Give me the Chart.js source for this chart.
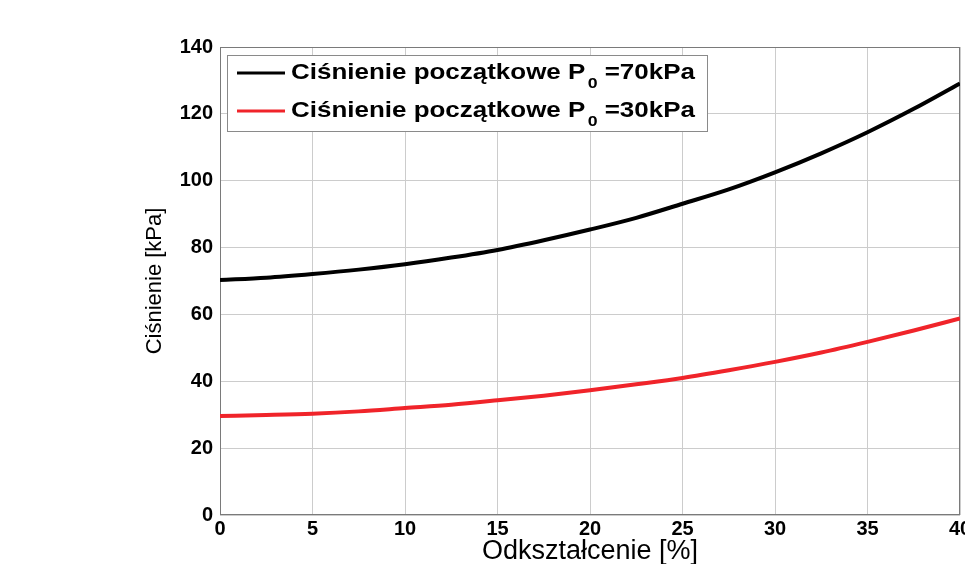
<!DOCTYPE html>
<html>
<head>
<meta charset="utf-8">
<script src="https://cdn.jsdelivr.net/npm/chart.js@4.4.1/dist/chart.umd.min.js"></script>
<style>
  html, body { margin: 0; padding: 0; background: #fff; }
  #wrap { width: 965px; height: 564px; }
</style>
</head>
<body>
<div id="wrap"><canvas id="chart" width="965" height="564"></canvas></div>
<script>
// Data
const strain = [0, 2.5, 5, 7.5, 10, 12.5, 15, 17.5, 20, 22.5, 25, 27.5, 30, 32.5, 35, 37.5, 40];
const p70 = [70.3, 71.0, 72.1, 73.4, 75.0, 77.0, 79.3, 82.2, 85.4, 88.9, 93.1, 97.4, 102.5, 108.2, 114.5, 121.5, 129.1];
const p30 = [29.6, 29.9, 30.3, 31.0, 32.0, 33.0, 34.3, 35.7, 37.3, 39.1, 41.0, 43.3, 45.8, 48.6, 51.8, 55.2, 58.8];
const seriesLabels = [
  ['Ciśnienie początkowe P', '0', ' =70kPa'],
  ['Ciśnienie początkowe P', '0', ' =30kPa']
];
const seriesColors = ['#000000', '#f0242a'];
const xTitle = 'Odkształcenie [%]';
const yTitle = 'Ciśnienie [kPa]';

const FONT = "'Liberation Sans', Arial, sans-serif";

function toPoints(ys) {
  return ys.map((y, i) => ({x: strain[i], y: y}));
}

// legend drawn inside the plot like the MATLAB one (text a bit stretched, as in the scan)
const boxLegend = {
  id: 'boxLegend',
  afterDraw(chart) {
    const ctx = chart.ctx;
    const x0 = 227.5, y0 = 55.5, w = 480, h = 76;
    ctx.save();
    ctx.fillStyle = '#fff';
    ctx.fillRect(x0, y0, w, h);
    ctx.strokeStyle = '#8a8a8a';
    ctx.lineWidth = 1;
    ctx.strokeRect(x0, y0, w, h);
    const rows = [73, 111];
    chart.data.datasets.forEach((ds, i) => {
      const y = rows[i];
      ctx.strokeStyle = ds.borderColor;
      ctx.lineWidth = 3;
      ctx.beginPath();
      ctx.moveTo(237, y);
      ctx.lineTo(285, y);
      ctx.stroke();
      const parts = seriesLabels[i];
      ctx.save();
      ctx.translate(291, y + 5.5);
      ctx.scale(1.18, 1);
      ctx.fillStyle = '#000';
      ctx.textBaseline = 'alphabetic';
      ctx.textAlign = 'left';
      let tx = 0;
      ctx.font = 'bold 22px ' + FONT;
      ctx.fillText(parts[0], tx, 0);
      tx += ctx.measureText(parts[0]).width + 2;
      ctx.font = 'bold 15px ' + FONT;
      ctx.fillText(parts[1], tx, 9);
      tx += ctx.measureText(parts[1]).width;
      ctx.font = 'bold 22px ' + FONT;
      ctx.fillText(parts[2], tx, 0);
      ctx.restore();
    });
    ctx.restore();
  }
};

// full box round the axes
const axesBox = {
  id: 'axesBox',
  beforeDatasetsDraw(chart) {
    const a = chart.chartArea;
    const ctx = chart.ctx;
    ctx.save();
    ctx.strokeStyle = '#7a7a7a';
    ctx.lineWidth = 1;
    ctx.strokeRect(a.left + 0.5, a.top + 0.5, a.right - a.left - 1, a.bottom - a.top - 1);
    ctx.restore();
  }
};

new Chart(document.getElementById('chart').getContext('2d'), {
  type: 'line',
  data: {
    datasets: [
      {
        label: seriesLabels[0].join(''),
        data: toPoints(p70),
        borderColor: seriesColors[0],
        borderWidth: 4,
        pointRadius: 0,
        cubicInterpolationMode: 'monotone',
        fill: false
      },
      {
        label: seriesLabels[1].join(''),
        data: toPoints(p30),
        borderColor: seriesColors[1],
        borderWidth: 4,
        pointRadius: 0,
        cubicInterpolationMode: 'monotone',
        fill: false
      }
    ]
  },
  options: {
    responsive: false,
    animation: false,
    events: [],
    layout: {padding: {top: 47, right: 5, bottom: 0, left: 0}},
    plugins: {
      legend: {display: false},
      tooltip: {enabled: false}
    },
    scales: {
      x: {
        type: 'linear',
        min: 0,
        max: 40,
        ticks: {
          stepSize: 5,
          padding: 2,
          color: '#000',
          font: {family: FONT, size: 20, weight: 'bold'},
          maxRotation: 0
        },
        grid: {color: '#cccccc', drawTicks: false, tickLength: 0},
        border: {display: false},
        title: {
          display: true,
          text: xTitle,
          color: '#000',
          font: {family: FONT, size: 27, lineHeight: 1},
          padding: {top: 0, bottom: -1}
        },
        afterFit(s) {
          s.height = 49;
          s.paddingLeft = 0;
          s.paddingRight = 0;
        }
      },
      y: {
        min: 0,
        max: 140,
        ticks: {
          stepSize: 20,
          padding: 7,
          color: '#000',
          font: {family: FONT, size: 20, weight: 'bold'}
        },
        grid: {color: '#cccccc', drawTicks: false, tickLength: 0},
        border: {display: false},
        title: {
          display: true,
          text: yTitle,
          color: '#000',
          font: {family: "'Liberation Sans Narrow', " + FONT, size: 22},
          padding: {top: 142, bottom: 0}
        },
        afterFit(s) {
          s.width = 220;
          s.paddingTop = 0;
          s.paddingBottom = 0;
        }
      }
    }
  },
  plugins: [axesBox, boxLegend]
});
</script>
</body>
</html>
